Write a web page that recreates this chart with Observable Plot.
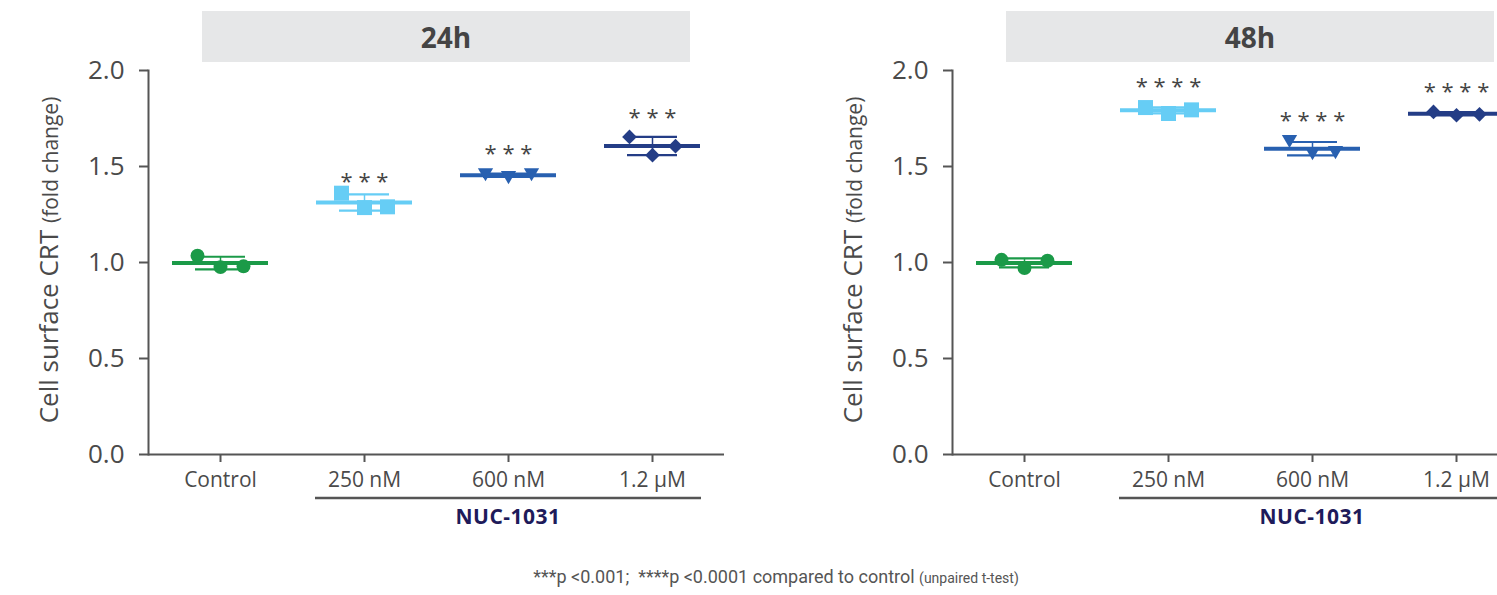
<!DOCTYPE html>
<html>
<head>
<meta charset="utf-8">
<script src="https://cdn.jsdelivr.net/npm/d3@7"></script>
<script src="https://cdn.jsdelivr.net/npm/@observablehq/plot@0.6"></script>
<style>
  html, body { margin: 0; padding: 0; background: #fff; overflow: hidden; }
  #page { position: relative; width: 1497px; height: 595px; overflow: hidden; }
  .panel { position: absolute; top: 0; width: 760px; height: 545px; }
  .header { position: absolute; left: 202px; top: 11px; width: 488px; height: 51px;
    background: #e6e7e8; color: #444; font: 700 28px "Open Sans", sans-serif;
    display: flex; align-items: center; justify-content: center; }
  #note { position: absolute; left: 0; width: 1552px; top: 566px; text-align: center;
    font: 18px Roboto, sans-serif; color: #555; }
  #note small { font-size: 14px; }
</style>
</head>
<body>
<div id="page"></div>
<script>
// ---- data ----
const groups = ["Control", "250 nM", "600 nM", "1.2 µM"];
const panels = ["24h", "48h"];
const colors = ["#1b9a48", "#66cdf5", "#2860b0", "#243d86"];

// replicate values (fold change), one array per group
const values24h = [
  [1.035, 0.976, 0.980],
  [1.361, 1.286, 1.290],
  [1.460, 1.445, 1.460],
  [1.654, 1.559, 1.606]
];
const values48h = [
  [1.014, 0.971, 1.009],
  [1.807, 1.776, 1.795],
  [1.633, 1.570, 1.575],
  [1.784, 1.767, 1.772]
];
// significance markers
const stars24h = ["", "* * *", "* * *", "* * *"];
const starY24h = [null, 1.448, 1.592, 1.779];
const stars48h = ["", "* * * *", "* * * *", "* * * *"];
const starY48h = [null, 1.942, 1.763, 1.914];

const yTicks = [0, 0.5, 1.0, 1.5, 2.0];
const replicateOffsets = [-23, 0, 23];

// ---- custom symbols ----
const symCircle = {draw(c, s) { const r = Math.sqrt(s / Math.PI) * 0.93; c.moveTo(r, 0); c.arc(0, 0, r, 0, 2 * Math.PI); }};
const symSquare = {draw(c, s) { const r = Math.sqrt(s / Math.PI); c.rect(-r, -r, 2 * r, 2 * r); }};
const symTriDown = {draw(c, s) { const r = Math.sqrt(s / Math.PI); c.moveTo(-r * 1.02, -r * 0.8); c.lineTo(r * 1.02, -r * 0.8); c.lineTo(0, r * 0.95); c.closePath(); }};
const symDiamond = {draw(c, s) { const r = Math.sqrt(s / Math.PI) * 0.98; c.moveTo(0, -r); c.lineTo(r, 0); c.lineTo(0, r); c.lineTo(-r, 0); c.closePath(); }};
const symbols = [symCircle, symSquare, symTriDown, symDiamond];

function makePanel(label, values, stars, starY) {
  const points = [];
  values.forEach((vals, gi) => vals.forEach((v, ri) => points.push({group: groups[gi], rep: ri, value: v})));
  const summary = values.map((vals, gi) => {
    const m = d3.mean(vals), sd = d3.deviation(vals);
    return {group: groups[gi], mean: m, lo: m - sd, hi: m + sd, stars: stars[gi], starY: starY[gi]};
  });
  const marks = [
    Plot.ruleY([0], {stroke: "#555", strokeWidth: 2}),
    Plot.frame({anchor: "left", stroke: "#555", strokeWidth: 2}),
    Plot.axisY({ticks: yTicks, tickFormat: d3.format(".1f"), tickSize: 9, tickPadding: 15,
      fontSize: 26, label: null, stroke: "#555", strokeWidth: 2, fill: "#4a4a4a"}),
    Plot.axisX({tickSize: 8, tickPadding: 10, fontSize: 21, label: null, stroke: "#555", strokeWidth: 2, fill: "#4a4a4a"}),
    Plot.ruleX(summary, {x: "group", y1: "lo", y2: "hi", stroke: "group", strokeWidth: 1.5}),
    Plot.tickY(summary, {x: "group", y: "hi", stroke: "group", strokeWidth: 2.2, insetLeft: 47, insetRight: 47}),
    Plot.tickY(summary, {x: "group", y: "lo", stroke: "group", strokeWidth: 2.2, insetLeft: 47, insetRight: 47}),
    Plot.tickY(summary, {x: "group", y: "mean", stroke: "group", strokeWidth: 4, insetLeft: 24, insetRight: 24}),
    ...replicateOffsets.map((dx, ri) =>
      Plot.dot(points.filter(d => d.rep === ri), {x: "group", y: "value", fill: "group", symbol: "group", r: 7.5, dx})),
    Plot.text(summary.filter(d => d.stars), {x: "group", y: "starY", text: "stars", fontSize: 22, fill: "#444", dy: 5})
  ];
  const chart = Plot.plot({
    width: 760, height: 545,
    marginLeft: 148, marginRight: 36, marginTop: 70, marginBottom: 91,
    style: {fontFamily: "'Open Sans', sans-serif", color: "#555", background: "transparent", overflow: "visible"},
    x: {type: "band", domain: groups, padding: 0, axis: null},
    y: {domain: [0, 2], axis: null},
    color: {type: "ordinal", domain: groups, range: colors},
    symbol: {domain: groups, range: symbols},
    marks
  });
  // y axis title and NUC-1031 bracket
  const svg = d3.select(chart.tagName === "svg" ? chart : chart.querySelector("svg"));
  const t = svg.append("text").attr("transform", "translate(58,260) rotate(-90)")
    .attr("text-anchor", "middle").attr("fill", "#4a4a4a").style("font-family", "'Open Sans', sans-serif");
  t.append("tspan").attr("font-size", 26).text("Cell surface CRT ");
  t.append("tspan").attr("font-size", 21).text("(fold change)");
  const xs = chart.scale("x");
  const bw = xs.bandwidth;
  const x1 = xs.apply(groups[1]) + 23, x2 = xs.apply(groups[3]) + bw - 23;
  svg.append("line").attr("x1", x1).attr("x2", x2).attr("y1", 498).attr("y2", 498)
    .attr("stroke", "#555").attr("stroke-width", 2.5);
  svg.append("text").attr("x", (x1 + x2) / 2).attr("y", 524).attr("text-anchor", "middle")
    .attr("fill", "#1e1b5a").attr("font-size", 21).attr("font-weight", 700)
    .style("font-family", "'Open Sans', sans-serif").style("letter-spacing", "0.5px").text("NUC-1031");
  return chart;
}

const page = document.getElementById("page");
const configs = [
  {label: panels[0], values: values24h, stars: stars24h, starY: starY24h, left: 0},
  {label: panels[1], values: values48h, stars: stars48h, starY: starY48h, left: 804}
];
for (const c of configs) {
  const wrap = document.createElement("div");
  wrap.className = "panel";
  wrap.style.left = c.left + "px";
  const head = document.createElement("div");
  head.className = "header";
  head.textContent = c.label;
  wrap.appendChild(makePanel(c.label, c.values, c.stars, c.starY));
  wrap.appendChild(head);
  page.appendChild(wrap);
}
const note = document.createElement("div");
note.id = "note";
note.innerHTML = "***p &lt;0.001;&nbsp; ****p &lt;0.0001 compared to control <small>(unpaired t-test)</small>";
page.appendChild(note);
</script>
</body>
</html>
